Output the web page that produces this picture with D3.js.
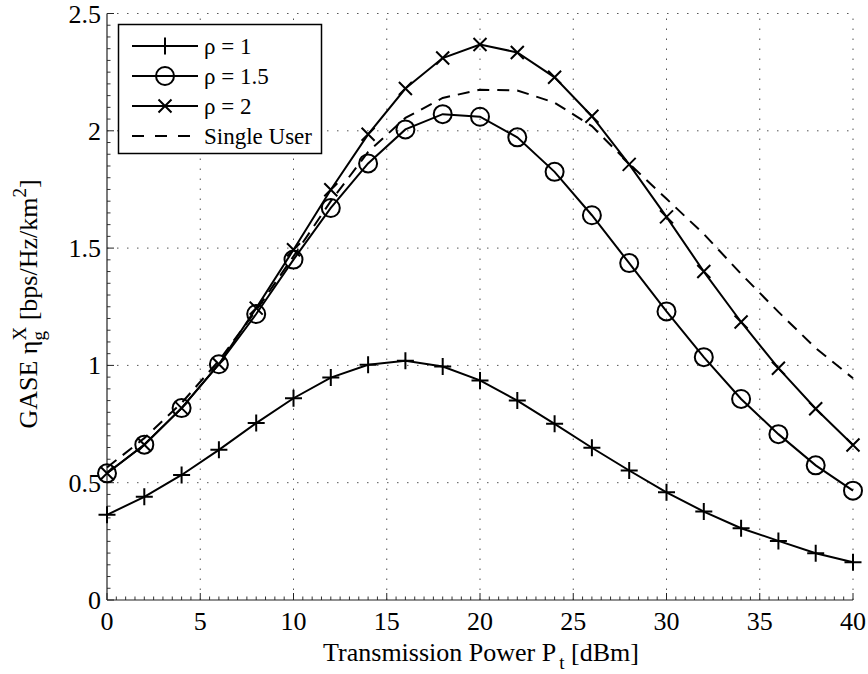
<!DOCTYPE html>
<html><head><meta charset="utf-8">
<script src="https://cdn.jsdelivr.net/npm/d3@7"></script>
<style>body{margin:0;background:#fff}svg{display:block}svg text{font-family:"Liberation Serif","Times New Roman","DejaVu Serif",serif;fill:#000}</style>
</head><body>
<svg id="c" width="868" height="674"></svg>
<script>
const powerDbm = [0,2,4,6,8,10,12,14,16,18,20,22,24,26,28,30,32,34,36,38,40];
const rho1 = [0.363,0.44,0.533,0.64,0.754,0.86,0.948,1.003,1.02,0.995,0.936,0.85,0.751,0.649,0.552,0.459,0.377,0.306,0.252,0.199,0.161];
const rho15 = [0.54,0.662,0.818,1.005,1.219,1.451,1.671,1.861,2.006,2.071,2.06,1.972,1.825,1.64,1.436,1.23,1.035,0.857,0.707,0.574,0.466];
const rho2 = [0.54,0.662,0.818,1.005,1.244,1.493,1.749,1.985,2.18,2.31,2.368,2.334,2.228,2.062,1.857,1.633,1.40,1.185,0.988,0.815,0.661];
const singleUser = [0.565,0.69,0.84,1.02,1.235,1.465,1.70,1.91,2.055,2.14,2.175,2.172,2.12,2.02,1.86,1.71,1.56,1.39,1.228,1.074,0.945];
const xTicks = [0,5,10,15,20,25,30,35,40];
const yTicks = [0,0.5,1,1.5,2,2.5];
const legendLabels = ["ρ = 1","ρ = 1.5","ρ = 2","Single User"];

const FONT = '"Liberation Serif","Times New Roman","DejaVu Serif",serif';
const svg = d3.select("#c").attr("font-family",FONT);
const L=107, R=853, T=13.5, B=600;
const x = d3.scaleLinear().domain([0,40]).range([L,R]);
const y = d3.scaleLinear().domain([0,2.5]).range([B,T]);

// grid
const g = svg.append("g");
g.selectAll(".vg").data(xTicks.slice(1)).enter().append("line")
  .attr("x1",d=>x(d)).attr("x2",d=>x(d)).attr("y1",B).attr("y2",T)
  .attr("stroke","#555").attr("stroke-width",1).attr("stroke-dasharray","1.5,8.5");
g.selectAll(".hg").data(yTicks.slice(1)).enter().append("line")
  .attr("y1",d=>y(d)).attr("y2",d=>y(d)).attr("x1",L).attr("x2",R)
  .attr("stroke","#555").attr("stroke-width",1).attr("stroke-dasharray","1.5,8.5");

// axes
const xMinor = d3.range(0,40.01,0.5).filter(v=>v%5!==0);
const yMinor = d3.range(0,2.501,0.05).map(v=>+v.toFixed(2)).filter(v=>Math.abs(v*2-Math.round(v*2))>1e-6);
const ax = svg.append("g");
ax.selectAll(".xm").data(xMinor).enter().append("line")
  .attr("x1",d=>x(d)).attr("x2",d=>x(d)).attr("y1",B).attr("y2",B-3.5).attr("stroke","#333");
ax.selectAll(".ym").data(yMinor).enter().append("line")
  .attr("y1",d=>y(d)).attr("y2",d=>y(d)).attr("x1",L).attr("x2",L+3.5).attr("stroke","#333");
ax.selectAll(".xM").data(xTicks).enter().append("line")
  .attr("x1",d=>x(d)).attr("x2",d=>x(d)).attr("y1",B).attr("y2",B-7).attr("stroke","#222");
ax.selectAll(".yM").data(yTicks).enter().append("line")
  .attr("y1",d=>y(d)).attr("y2",d=>y(d)).attr("x1",L).attr("x2",L+7).attr("stroke","#222");
ax.append("line").attr("x1",L).attr("x2",R).attr("y1",B).attr("y2",B).attr("stroke","#222").attr("stroke-width",1.2);
ax.append("line").attr("x1",L).attr("x2",L).attr("y1",B).attr("y2",T).attr("stroke","#222").attr("stroke-width",1.2);
ax.selectAll(".xl").data(xTicks).enter().append("text")
  .attr("font-family",FONT)
  .attr("x",d=>x(d)).attr("y",630).attr("text-anchor","middle").attr("font-size",26).text(d=>d);
ax.selectAll(".yl").data(yTicks).enter().append("text")
  .attr("font-family",FONT)
  .attr("x",101).attr("y",d=>y(d)+9).attr("text-anchor","end").attr("font-size",26).text(d=>d);

// axis titles
const xt = svg.append("text").attr("font-family",FONT).attr("x",481).attr("y",661).attr("text-anchor","middle").attr("font-size",26);
xt.append("tspan").text("Transmission Power P");
xt.append("tspan").attr("dx",3).attr("dy",8).attr("font-size",19).text("t");
xt.append("tspan").attr("dy",-8).text(" [dBm]");

const yt = svg.append("text").attr("font-family",FONT).attr("transform","translate(37,304) rotate(-90)").attr("text-anchor","middle").attr("font-size",26);
yt.append("tspan").text("GASE η");
yt.append("tspan").attr("dy",8).attr("font-size",19).text("g");
yt.append("tspan").attr("dx",-9.5).attr("dy",-19).attr("font-size",19).text("X");
yt.append("tspan").attr("dy",11).text(" [bps/Hz/km");
yt.append("tspan").attr("dy",-11).attr("font-size",19).text("2");
yt.append("tspan").attr("dy",11).text("]");

// series
const line = d3.line().x((d,i)=>x(powerDbm[i])).y(d=>y(d));
const plot = svg.append("g");
plot.append("path").attr("d",line(singleUser)).attr("fill","none").attr("stroke","#000").attr("stroke-width",2).attr("stroke-dasharray","12,8");
[rho1,rho15,rho2].forEach(s=>{
  plot.append("path").attr("d",line(s)).attr("fill","none").attr("stroke","#000").attr("stroke-width",2);
});
function plus(sel,cx,cy,h){sel.append("path").attr("d",`M${cx-h},${cy}H${cx+h}M${cx},${cy-h}V${cy+h}`).attr("stroke","#000").attr("stroke-width",2);}
function cross(sel,cx,cy,h){sel.append("path").attr("d",`M${cx-h},${cy-h}L${cx+h},${cy+h}M${cx-h},${cy+h}L${cx+h},${cy-h}`).attr("stroke","#000").attr("stroke-width",2);}
function circ(sel,cx,cy,r){sel.append("circle").attr("cx",cx).attr("cy",cy).attr("r",r).attr("fill","none").attr("stroke","#000").attr("stroke-width",2);}
rho1.forEach((v,i)=>plus(plot,x(powerDbm[i]),y(v),8.5));
rho15.forEach((v,i)=>circ(plot,x(powerDbm[i]),y(v),9));
rho2.forEach((v,i)=>cross(plot,x(powerDbm[i]),y(v),6.5));

// legend
const lg = svg.append("g");
lg.append("rect").attr("x",118.5).attr("y",24.5).attr("width",203).attr("height",129).attr("fill","#fff").attr("stroke","#000").attr("stroke-width",1.5);
const ly = [46,76,106,136];
legendLabels.forEach((lab,i)=>{
  const l = lg.append("line").attr("x1",132).attr("x2",198).attr("y1",ly[i]).attr("y2",ly[i]).attr("stroke","#000").attr("stroke-width",2);
  if(i===3) l.attr("stroke-dasharray","12,11");
  if(i===0) plus(lg,165,ly[i],8.5);
  if(i===1) circ(lg,165,ly[i],9);
  if(i===2) cross(lg,165,ly[i],6.5);
  lg.append("text").attr("font-family",FONT).attr("x",204).attr("y",ly[i]+8).attr("font-size",23).text(lab);
});
</script>
</body></html>
